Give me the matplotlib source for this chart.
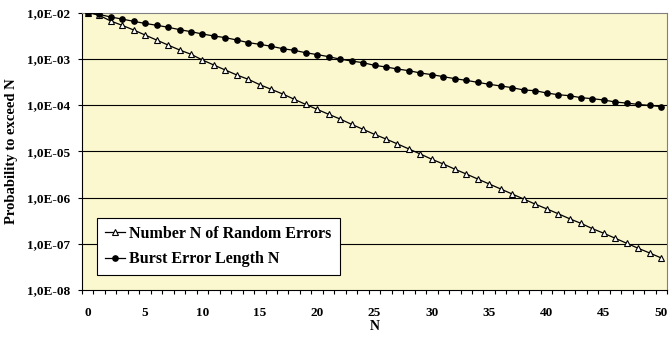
import matplotlib
matplotlib.use("Agg")
import matplotlib.pyplot as plt
from matplotlib.ticker import FixedLocator, FuncFormatter, NullLocator
import numpy as np

N = list(range(51))

random_errors = [
    1.0e-2, 8.7e-3, 6.55e-3, 5.28e-3, 4.19e-3, 3.26e-3, 2.54e-3, 1.98e-3, 1.55e-3, 1.25e-3,
    9.4e-4, 7.3e-4, 5.7e-4, 4.45e-4, 3.59e-4, 2.75e-4, 2.18e-4, 1.73e-4, 1.33e-4, 1.03e-4,
    8.05e-5, 6.3e-5, 4.98e-5, 3.82e-5, 2.98e-5, 2.32e-5, 1.84e-5, 1.44e-5, 1.12e-5, 8.7e-6,
    6.7e-6, 5.3e-6, 4.1e-6, 3.22e-6, 2.51e-6, 1.96e-6, 1.53e-6, 1.19e-6, 9.3e-7, 7.2e-7,
    5.7e-7, 4.47e-7, 3.48e-7, 2.76e-7, 2.12e-7, 1.68e-7, 1.31e-7, 1.02e-7, 7.96e-8, 6.3e-8,
    4.92e-8,
]

burst_errors = [
    1.0e-2, 9.1e-3, 8.0e-3, 7.2e-3, 6.45e-3, 5.8e-3, 5.3e-3, 4.8e-3, 4.26e-3, 3.85e-3,
    3.43e-3, 3.1e-3, 2.86e-3, 2.54e-3, 2.23e-3, 2.05e-3, 1.86e-3, 1.65e-3, 1.52e-3, 1.35e-3,
    1.23e-3, 1.11e-3, 9.8e-4, 8.93e-4, 8.22e-4, 7.2e-4, 6.64e-4, 6.0e-4, 5.52e-4, 4.92e-4,
    4.53e-4, 4.1e-4, 3.71e-4, 3.41e-4, 3.09e-4, 2.8e-4, 2.58e-4, 2.37e-4, 2.11e-4, 2.04e-4,
    1.82e-4, 1.67e-4, 1.59e-4, 1.44e-4, 1.37e-4, 1.28e-4, 1.16e-4, 1.10e-4, 1.03e-4, 9.8e-5,
    9.2e-5,
]

x_tick_labels = [0, 5, 10, 15, 20, 25, 30, 35, 40, 45, 50]
y_ticks = [1e-8, 1e-7, 1e-6, 1e-5, 1e-4, 1e-3, 1e-2]

plt.rcParams['font.family'] = ['Liberation Serif', 'DejaVu Serif']
plt.rcParams['font.weight'] = 'bold'

fig = plt.figure(figsize=(6.69, 3.38), dpi=100)
ax = fig.add_axes([82/669, 1-290/338, 585/669, 277.5/338])
ax.set_facecolor('#FBF7CF')

ax.set_yscale('log')
ax.set_ylim(1e-8, 1e-2)
ax.set_xlim(-0.5, 50.5)

for v in y_ticks[1:-1]:
    ax.axhline(v, color='black', lw=0.8, zorder=1)

ax.plot(N, random_errors, color='black', lw=0.9, marker='^', markersize=5,
        markerfacecolor='white', markeredgecolor='black', markeredgewidth=0.8,
        label='Number N of Random Errors', zorder=3)
ax.plot(N, burst_errors, color='black', lw=0.9, marker='o', markersize=3.8,
        markerfacecolor='black', markeredgecolor='black',
        label='Burst Error Length N', zorder=3)

ax.xaxis.set_major_locator(FixedLocator(x_tick_labels))
ax.xaxis.set_minor_locator(FixedLocator(np.arange(-0.5, 51, 1.0)))
ax.tick_params(axis='x', which='major', length=0, pad=12, labelsize=9.5)
ax.tick_params(axis='x', which='minor', length=3.2, width=0.8, direction='out', color='black')

ax.yaxis.set_major_locator(FixedLocator(y_ticks))
ax.yaxis.set_minor_locator(NullLocator())
ax.yaxis.set_major_formatter(FuncFormatter(lambda v, p: '1,0E-%02d' % int(round(-np.log10(v)))))
ax.tick_params(axis='y', which='major', length=3.2, width=0.8, direction='out', pad=5.5, labelsize=9.5)

for lab in ax.get_xticklabels() + ax.get_yticklabels():
    lab.set_fontweight('bold')

for s in ['top', 'right']:
    ax.spines[s].set_color('#808080')
for s in ['left', 'bottom']:
    ax.spines[s].set_color('black')
for s in ax.spines.values():
    s.set_linewidth(0.8)

ax.set_xlabel('N', fontsize=10, fontweight='bold', labelpad=1)
ax.set_ylabel('Probability to exceed N', fontsize=10.5, fontweight='bold', labelpad=6)

leg = ax.legend(loc='lower left', bbox_to_anchor=(0.025, 0.053, 0.416, 0.233), mode='expand',
                frameon=True, fancybox=False, edgecolor='black', framealpha=1,
                prop={'family': 'Liberation Serif', 'weight': 'bold', 'size': 11.5},
                handlelength=1.3, handletextpad=0.25, labelspacing=0.6, borderaxespad=0,
                borderpad=0.5)
leg.get_frame().set_linewidth(0.8)

fig.savefig('out.png', dpi=100)
